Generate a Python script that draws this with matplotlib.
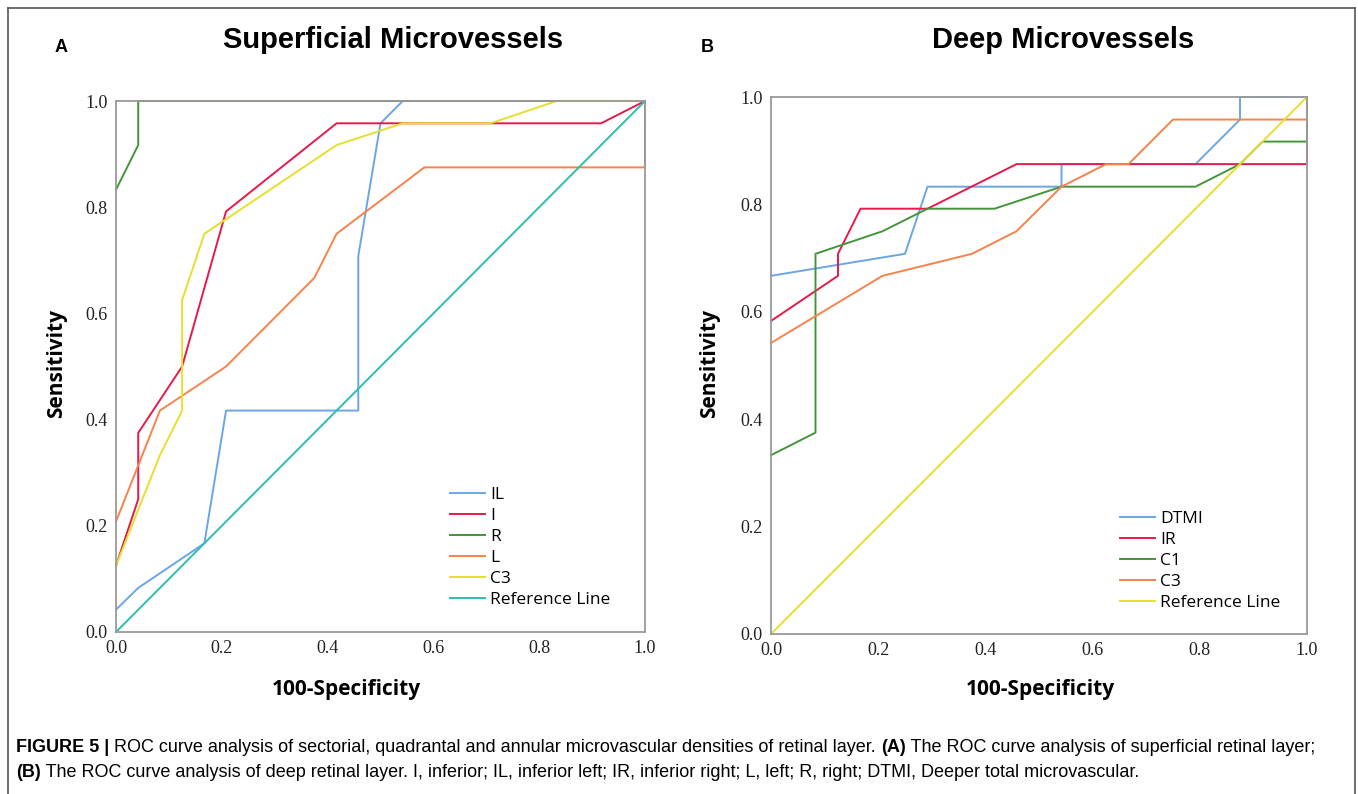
import matplotlib
matplotlib.use("Agg")
import matplotlib.pyplot as plt
from matplotlib.lines import Line2D

# ---- data ----
# Superficial microvessels (panel A)
sup_names = ["IL", "I", "R", "L", "C3", "Reference Line"]
sup_IL_x = [0, 0.042, 0.167, 0.208, 0.458, 0.458, 0.5, 0.542, 1]
sup_IL_y = [0.042, 0.083, 0.167, 0.417, 0.417, 0.708, 0.958, 1, 1]
sup_I_x = [0, 0.042, 0.042, 0.125, 0.208, 0.417, 0.917, 1]
sup_I_y = [0.125, 0.25, 0.375, 0.5, 0.792, 0.958, 0.958, 1]
sup_R_x = [0, 0.042, 0.042, 1]
sup_R_y = [0.833, 0.917, 1, 1]
sup_L_x = [0, 0.083, 0.208, 0.375, 0.417, 0.583, 1, 1]
sup_L_y = [0.208, 0.417, 0.5, 0.667, 0.75, 0.875, 0.875, 1]
sup_C3_x = [0, 0.083, 0.125, 0.125, 0.167, 0.417, 0.542, 0.708, 0.833, 1]
sup_C3_y = [0.125, 0.333, 0.417, 0.625, 0.75, 0.917, 0.958, 0.958, 1, 1]

# Deep microvessels (panel B)
deep_names = ["DTMI", "IR", "C1", "C3", "Reference Line"]
deep_DTMI_x = [0, 0.25, 0.292, 0.542, 0.542, 0.792, 0.875, 0.875, 1]
deep_DTMI_y = [0.667, 0.708, 0.833, 0.833, 0.875, 0.875, 0.958, 1, 1]
deep_IR_x = [0, 0.125, 0.125, 0.167, 0.292, 0.458, 1, 1]
deep_IR_y = [0.583, 0.667, 0.708, 0.792, 0.792, 0.875, 0.875, 1]
deep_C1_x = [0, 0.083, 0.083, 0.208, 0.292, 0.417, 0.542, 0.792, 0.875, 0.917, 1, 1]
deep_C1_y = [0.333, 0.375, 0.708, 0.75, 0.792, 0.792, 0.833, 0.833, 0.875, 0.917, 0.917, 1]
deep_C3_x = [0, 0.208, 0.375, 0.458, 0.542, 0.625, 0.667, 0.75, 1, 1]
deep_C3_y = [0.542, 0.667, 0.708, 0.75, 0.833, 0.875, 0.875, 0.958, 0.958, 1]

ref_x = [0, 1]
ref_y = [0, 1]
ticks = [0.0, 0.2, 0.4, 0.6, 0.8, 1.0]

BLUE = "#6aa6e6"
RED = "#e5194a"
GREEN = "#43953a"
ORANGE = "#f5834b"
YELLOW = "#e6df2c"
TEAL = "#2cbfae"

W, H = 1358, 794
fig = plt.figure(figsize=(W / 100, H / 100), dpi=100)
fig.patch.set_facecolor("white")

def px_axes(x0, y0, x1, y1):
    # pixel box (from top-left) -> figure axes
    return fig.add_axes([x0 / W, 1 - y1 / H, (x1 - x0) / W, (y1 - y0) / H])

def ftext(x, y, s, **kw):
    return fig.text(x / W, 1 - y / H, s, **kw)

def style(ax):
    ax.set_xlim(0, 1)
    ax.set_ylim(0, 1)
    ax.set_xticks(ticks)
    ax.set_yticks(ticks)
    ax.set_xticklabels(["%.1f" % t for t in ticks])
    ax.set_yticklabels(["%.1f" % t for t in ticks])
    ax.tick_params(length=0, pad=6, labelsize=13, colors="#222222")
    for lab in ax.get_xticklabels() + ax.get_yticklabels():
        lab.set_family("Liberation Serif")
    for s in ax.spines.values():
        s.set_color("#9a9a9a")
        s.set_linewidth(1.3)

lw = 1.4
lab_font = {"family": "Open Sans", "fontweight": "bold", "fontsize": 15}

# panel A
axA = px_axes(116, 101, 645, 632)
axA.plot(sup_IL_x, sup_IL_y, color=BLUE, lw=lw, label=sup_names[0], clip_on=False)
axA.plot(sup_I_x, sup_I_y, color=RED, lw=lw, label=sup_names[1], clip_on=False)
axA.plot(sup_R_x, sup_R_y, color=GREEN, lw=lw, label=sup_names[2], clip_on=False)
axA.plot(sup_L_x, sup_L_y, color=ORANGE, lw=lw, label=sup_names[3], clip_on=False)
axA.plot(sup_C3_x, sup_C3_y, color=YELLOW, lw=lw, label=sup_names[4], clip_on=False)
axA.plot(ref_x, ref_y, color=TEAL, lw=lw, label=sup_names[5], clip_on=False)
style(axA)
axA.legend(loc="upper left", bbox_to_anchor=(0.615, 0.29), frameon=False,
           borderpad=0, handlelength=2.0, handletextpad=0.3, labelspacing=0.28,
           prop={"family": "Open Sans", "size": 12.5})
ftext(346, 690, "100-Specificity", ha="center", va="center", **lab_font)
ftext(57, 364, "Sensitivity", ha="center", va="center", rotation=90, **lab_font)

# panel B
axB = px_axes(771, 97, 1307, 634)
axB.plot(deep_DTMI_x, deep_DTMI_y, color=BLUE, lw=lw, label=deep_names[0], clip_on=False)
axB.plot(deep_IR_x, deep_IR_y, color=RED, lw=lw, label=deep_names[1], clip_on=False)
axB.plot(deep_C1_x, deep_C1_y, color=GREEN, lw=lw, label=deep_names[2], clip_on=False)
axB.plot(deep_C3_x, deep_C3_y, color=ORANGE, lw=lw, label=deep_names[3], clip_on=False)
axB.plot(ref_x, ref_y, color=YELLOW, lw=lw, label=deep_names[4], clip_on=False)
style(axB)
axB.legend(loc="upper left", bbox_to_anchor=(0.635, 0.245), frameon=False,
           borderpad=0, handlelength=2.0, handletextpad=0.3, labelspacing=0.28,
           prop={"family": "Open Sans", "size": 12.5})
ftext(1040, 690, "100-Specificity", ha="center", va="center", **lab_font)
ftext(710, 364, "Sensitivity", ha="center", va="center", rotation=90, **lab_font)

# titles and panel letters
ftext(393, 40, "Superficial Microvessels", ha="center", va="center",
      family="Liberation Sans", fontweight="bold", fontsize=21)
ftext(1063, 40, "Deep Microvessels", ha="center", va="center",
      family="Liberation Sans", fontweight="bold", fontsize=21)
ftext(61, 47, "A", ha="center", va="center",
      family="Liberation Sans", fontweight="bold", fontsize=13)
ftext(707, 47, "B", ha="center", va="center",
      family="Liberation Sans", fontweight="bold", fontsize=13)

# outer frame
for xs, ys in [([8, 1355], [8, 8]), ([8, 8], [8, 794]), ([1355, 1355], [8, 794])]:
    fig.add_artist(Line2D([x / W for x in xs], [1 - y / H for y in ys],
                          color="#555555", lw=1.2))

# caption, pieces chained so each follows the previous one
cap_font = {"family": "Liberation Sans", "fontsize": 13}

def chain(y, parts):
    first, rest = parts[0], parts[1:]
    t = ftext(16, y, first[0], ha="left", va="baseline",
              fontweight="bold" if first[1] else "normal", **cap_font)
    for txt, bold in rest:
        t = fig.add_artist(plt.Annotation(txt, xy=(1, 0), xycoords=t, xytext=(0, 0),
                                          textcoords="offset points", ha="left", va="bottom",
                                          fontweight="bold" if bold else "normal", **cap_font))

chain(752, [("FIGURE 5 |", True),
            (" ROC curve analysis of sectorial, quadrantal and annular microvascular densities of retinal layer. ", False),
            ("(A)", True),
            (" The ROC curve analysis of superficial retinal layer;", False)])
chain(777, [("(B)", True),
            (" The ROC curve analysis of deep retinal layer. I, inferior; IL, inferior left; IR, inferior right; L, left; R, right; DTMI, Deeper total microvascular.", False)])

fig.savefig("out.png", dpi=100, facecolor="white")
